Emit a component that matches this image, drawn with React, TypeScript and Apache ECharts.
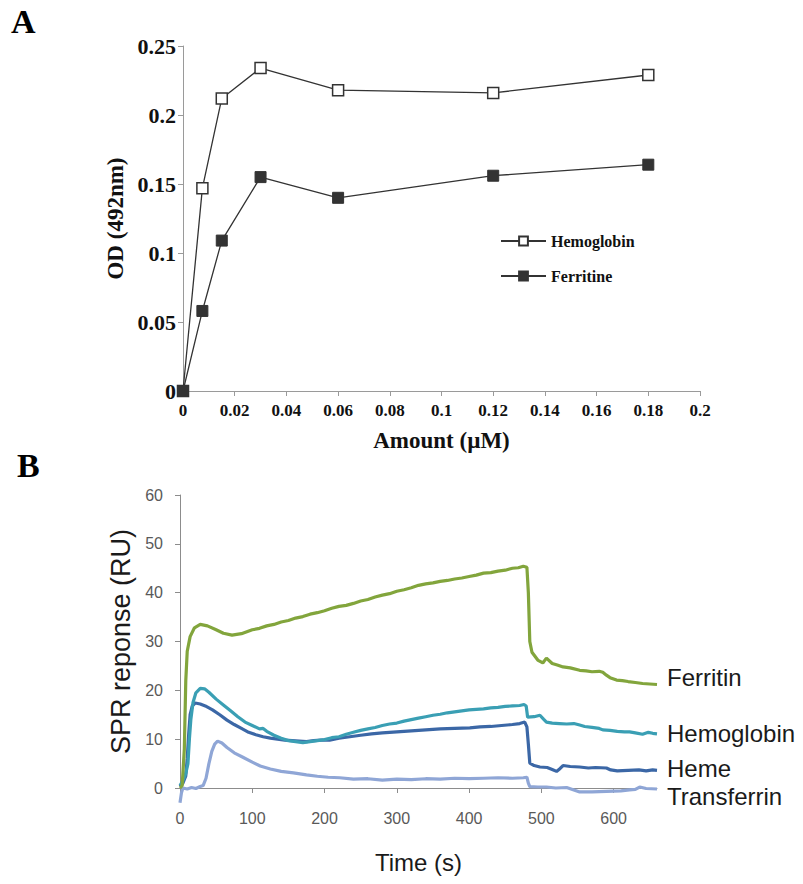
import React, { useEffect, useRef } from "react";
import * as echarts from "echarts";

// ---------- Panel A data ----------
const amountUM = [0, 0.0075, 0.015, 0.03, 0.06, 0.12, 0.18];
const hemoglobinOD = [0, 0.147, 0.212, 0.234, 0.218, 0.216, 0.229];
const ferritineOD = [0, 0.058, 0.109, 0.155, 0.14, 0.156, 0.164];
const aXTicks = [0, 0.02, 0.04, 0.06, 0.08, 0.1, 0.12, 0.14, 0.16, 0.18, 0.2];

// ---------- Panel B data: [time (s), response (RU)] ----------
const ferritinSPR: [number, number][] = [
  [0, 0], [3, 0.5], [6, 8], [8, 22], [10, 28], [14, 31], [20, 32.8], [28, 33.5], [38, 33.2],
  [50, 32.4], [60, 31.7], [72, 31.3], [85, 31.6], [100, 32.4], [110, 32.7], [120, 33.2], [130, 33.5],
  [140, 34.0], [150, 34.3], [160, 34.8], [170, 35.1], [180, 35.6], [190, 35.9], [200, 36.3],
  [210, 36.8], [220, 37.2], [230, 37.4], [240, 37.8], [250, 38.3], [260, 38.6], [270, 39.1],
  [280, 39.5], [290, 39.8], [300, 40.3], [310, 40.6], [320, 41.0], [330, 41.5], [340, 41.8],
  [350, 42.0], [360, 42.3], [370, 42.5], [380, 42.8], [390, 43.0], [400, 43.3], [410, 43.6],
  [420, 44.0], [430, 44.1], [440, 44.4], [450, 44.6], [460, 45.0], [468, 45.1], [475, 45.4],
  [480, 45.2], [482, 40], [484, 30], [487, 27.8], [495, 26.2], [502, 25.6], [507, 26.6],
  [515, 25.5], [522, 25.2], [530, 24.8], [540, 24.6], [553, 24.1], [562, 24.0], [570, 23.8],
  [580, 23.9], [585, 23.7], [590, 23.1], [595, 22.6], [604, 22.1], [612, 22.0], [620, 21.8],
  [630, 21.6], [640, 21.4], [650, 21.3], [660, 21.2],
];
const hemoglobinSPR: [number, number][] = [
  [0, 0.5], [4, 1.5], [8, 3], [11, 5], [13, 10], [15, 14], [18, 17.5], [22, 19.5], [28, 20.4],
  [34, 20.3], [40, 19.6], [50, 18.2], [60, 17], [70, 15.8], [80, 14.6], [90, 13.5], [100, 12.8],
  [110, 12.1], [115, 12.2], [120, 11.6], [130, 10.8], [140, 10.2], [150, 9.7], [160, 9.5],
  [170, 9.3], [180, 9.5], [190, 9.7], [200, 9.9], [210, 10.3], [220, 10.5], [230, 11],
  [240, 11.4], [250, 11.8], [260, 12.1], [270, 12.4], [280, 12.8], [290, 13.1], [300, 13.3],
  [310, 13.7], [320, 14], [330, 14.3], [340, 14.6], [350, 14.9], [360, 15.1], [370, 15.4],
  [380, 15.6], [390, 15.8], [400, 16], [410, 16.1], [420, 16.2], [430, 16.4], [440, 16.5],
  [450, 16.7], [460, 16.8], [470, 16.9], [476, 17.1], [479, 16.8], [481, 14.5], [490, 14.6],
  [498, 14.9], [503, 14.1], [507, 13.5], [515, 13.3], [525, 13.2], [535, 13.1], [545, 13.2],
  [553, 12.9], [560, 12.6], [570, 12.4], [580, 12.2], [585, 11.9], [595, 11.8], [605, 11.6],
  [615, 11.5], [622, 11.5], [630, 11.3], [640, 11.0], [648, 11.4], [654, 11.2], [660, 11.1],
];
const hemeSPR: [number, number][] = [
  [0, 0.3], [4, 1], [8, 2.5], [10, 6], [12, 11], [14, 15], [17, 16.8], [21, 17.4], [28, 17.2],
  [35, 16.8], [45, 16], [55, 15], [65, 13.9], [75, 13], [85, 12.2], [95, 11.4], [105, 10.9],
  [115, 10.5], [125, 10.2], [135, 10], [145, 9.8], [155, 9.7], [165, 9.6], [175, 9.5],
  [185, 9.7], [195, 9.8], [207, 9.8], [220, 10.2], [235, 10.5], [250, 10.8], [265, 11.1],
  [280, 11.3], [300, 11.5], [320, 11.7], [340, 11.9], [360, 12.1], [380, 12.2], [401, 12.3],
  [415, 12.5], [430, 12.6], [445, 12.8], [460, 13], [470, 13.2], [477, 13.5], [480, 12.5],
  [482, 9], [484, 5.1], [490, 4.6], [498, 4.3], [508, 4.2], [515, 3.8], [521, 3.4], [526, 4.0],
  [530, 4.6], [540, 4.4], [553, 4.3], [565, 4.1], [575, 4.2], [590, 4.1], [596, 3.7],
  [605, 3.5], [620, 3.6], [635, 3.7], [645, 3.5], [654, 3.7], [660, 3.6],
];
const transferrinSPR: [number, number][] = [
  [0, -3], [2, -1], [4, 0], [10, -0.2], [16, 0.1], [22, -0.1], [28, 0.3], [32, 0.5], [36, 2],
  [40, 5], [44, 7.5], [48, 9], [52, 9.6], [58, 9.2], [65, 8.3], [75, 7.2], [87, 6.3],
  [100, 5.3], [111, 4.5], [125, 3.9], [140, 3.4], [157, 3.1], [175, 2.7], [190, 2.4],
  [205, 2.2], [221, 2.1], [240, 1.8], [260, 1.9], [280, 1.6], [300, 1.8], [320, 1.7],
  [340, 1.9], [360, 1.8], [380, 2.0], [400, 1.9], [420, 2.0], [440, 2.1], [460, 2.0],
  [475, 2.1], [480, 2.2], [482, 1], [484, 0.3], [495, 0.2], [507, 0.2], [520, 0.0],
  [535, 0.1], [545, -0.4], [553, -0.8], [570, -0.8], [590, -0.7], [610, -0.6], [622, -0.4],
  [630, -0.3], [636, 0.2], [645, -0.1], [660, -0.2],
];
const bXTicks = [0, 100, 200, 300, 400, 500, 600];

const serif = "'Liberation Serif', 'Times New Roman', serif";
const sans = "'Liberation Sans', Arial, sans-serif";

export default function App() {
  const ref = useRef<HTMLDivElement>(null);
  useEffect(() => {
    if (!ref.current) return;
    const chart = echarts.init(ref.current, null, { renderer: "svg" });
    const aAxisLine = { lineStyle: { color: "#9a9a9a", width: 1 } };
    const bAxisLine = { lineStyle: { color: "#8c8c8c", width: 1 } };
    const sprLabel = (dy: number) => ({
      show: true,
      formatter: "{a}",
      fontFamily: sans,
      fontSize: 24,
      color: "#1a1a1a",
      distance: 10,
      offset: [0, dy],
    });
    chart.setOption({
      animation: false,
      backgroundColor: "#ffffff",
      graphic: [
        {
          type: "text",
          left: 11,
          top: 4,
          style: { text: "A", font: `bold 34px ${serif}`, fill: "#000" },
        },
        {
          type: "text",
          left: 17,
          top: 448,
          style: { text: "B", font: `bold 34px ${serif}`, fill: "#000" },
        },
      ],
      legend: {
        data: ["Hemoglobin", "Ferritine"],
        orient: "vertical",
        left: 495,
        top: 228,
        itemWidth: 45,
        itemHeight: 11,
        itemGap: 19,
        textStyle: { fontFamily: serif, fontWeight: "bold", fontSize: 16, color: "#111" },
      },
      grid: [
        { left: 183, right: 103, top: 46, bottom: 493 },
        { left: 180, right: 146, top: 495, bottom: 96 },
      ],
      xAxis: [
        {
          gridIndex: 0,
          type: "value",
          min: 0,
          max: 0.2,
          interval: 0.02,
          name: "Amount (µM)",
          nameLocation: "middle",
          nameGap: 38,
          nameTextStyle: { fontFamily: serif, fontWeight: "bold", fontSize: 23, color: "#111" },
          axisLine: aAxisLine,
          axisTick: { show: true, length: 5, lineStyle: { color: "#9a9a9a" }, customValues: aXTicks },
          axisLabel: {
            customValues: aXTicks,
            margin: 11,
            fontFamily: serif,
            fontWeight: "bold",
            fontSize: 17,
            color: "#111",
          },
          splitLine: { show: false },
        },
        {
          gridIndex: 1,
          type: "value",
          min: 0,
          max: 660,
          name: "Time (s)",
          nameLocation: "middle",
          nameGap: 62,
          nameTextStyle: { fontFamily: sans, fontSize: 24, color: "#1a1a1a" },
          axisLine: bAxisLine,
          axisTick: { show: true, length: 5, lineStyle: { color: "#8c8c8c" }, customValues: bXTicks },
          axisLabel: {
            customValues: bXTicks,
            margin: 22,
            fontFamily: sans,
            fontSize: 16,
            color: "#595959",
          },
          splitLine: { show: false },
        },
      ],
      yAxis: [
        {
          gridIndex: 0,
          type: "value",
          min: 0,
          max: 0.25,
          interval: 0.05,
          name: "OD (492nm)",
          nameLocation: "middle",
          nameRotate: 90,
          nameGap: 54,
          nameTextStyle: { fontFamily: serif, fontWeight: "bold", fontSize: 23, color: "#111" },
          axisLine: { show: true, ...aAxisLine },
          axisTick: { show: true, length: 5, lineStyle: { color: "#9a9a9a" } },
          axisLabel: { margin: 7, fontFamily: serif, fontWeight: "bold", fontSize: 22, color: "#111" },
          splitLine: { show: false },
        },
        {
          gridIndex: 1,
          type: "value",
          min: 0,
          max: 60,
          interval: 10,
          name: "SPR reponse (RU)",
          nameLocation: "middle",
          nameRotate: 90,
          nameGap: 45,
          nameTextStyle: { fontFamily: sans, fontSize: 27, color: "#1a1a1a" },
          axisLine: { show: true, ...bAxisLine },
          axisTick: { show: true, length: 5, lineStyle: { color: "#8c8c8c" } },
          axisLabel: { margin: 17, fontFamily: sans, fontSize: 16, color: "#595959" },
          splitLine: { show: false },
        },
      ],
      series: [
        {
          name: "Hemoglobin",
          type: "line",
          xAxisIndex: 0,
          yAxisIndex: 0,
          data: amountUM.map((x, i) => [x, hemoglobinOD[i]]),
          symbol: "rect",
          symbolSize: 11,
          lineStyle: { color: "#333", width: 1.3 },
          itemStyle: { color: "#ffffff", borderColor: "#333", borderWidth: 1.5 },
          z: 3,
        },
        {
          name: "Ferritine",
          type: "line",
          xAxisIndex: 0,
          yAxisIndex: 0,
          data: amountUM.map((x, i) => [x, ferritineOD[i]]),
          symbol: "rect",
          symbolSize: 11,
          lineStyle: { color: "#333", width: 1.3 },
          itemStyle: { color: "#333", borderColor: "#333", borderWidth: 1 },
          z: 4,
        },
        {
          name: "Transferrin",
          type: "line",
          xAxisIndex: 1,
          yAxisIndex: 1,
          data: transferrinSPR,
          showSymbol: false,
          clip: false,
          lineStyle: { color: "#8fa6d6", width: 3.2 },
          itemStyle: { color: "#8fa6d6" },
          endLabel: sprLabel(8),
          z: 2,
        },
        {
          name: "Heme",
          type: "line",
          xAxisIndex: 1,
          yAxisIndex: 1,
          data: hemeSPR,
          showSymbol: false,
          clip: false,
          lineStyle: { color: "#3b67a6", width: 3.2 },
          itemStyle: { color: "#3b67a6" },
          endLabel: sprLabel(-2),
          z: 3,
        },
        {
          name: "Hemoglobin ",
          type: "line",
          xAxisIndex: 1,
          yAxisIndex: 1,
          data: hemoglobinSPR,
          showSymbol: false,
          clip: false,
          lineStyle: { color: "#3a9fb4", width: 3.2 },
          itemStyle: { color: "#3a9fb4" },
          endLabel: sprLabel(0),
          z: 4,
        },
        {
          name: "Ferritin",
          type: "line",
          xAxisIndex: 1,
          yAxisIndex: 1,
          data: ferritinSPR,
          showSymbol: false,
          clip: false,
          lineStyle: { color: "#82a53c", width: 3.2 },
          itemStyle: { color: "#82a53c" },
          endLabel: sprLabel(-7),
          z: 5,
        },
      ],
    });
    return () => chart.dispose();
  }, []);
  return (
    <div
      ref={ref}
      style={{ position: "fixed", left: 0, top: 0, width: 803, height: 884, background: "#fff" }}
    />
  );
}
